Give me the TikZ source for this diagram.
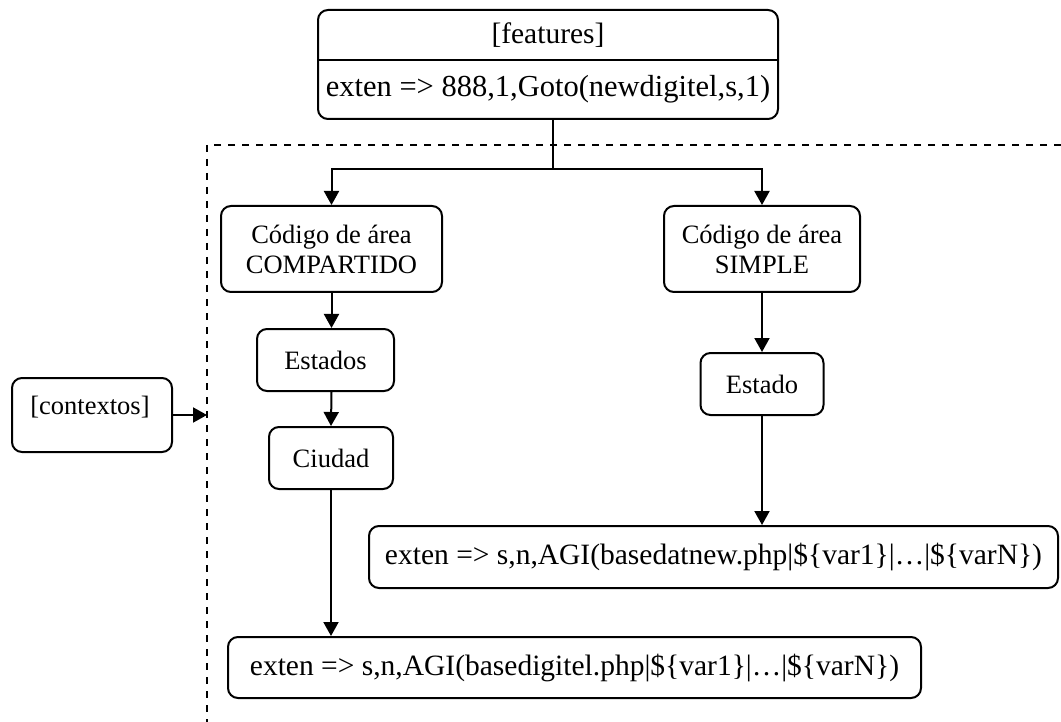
\documentclass[tikz,border=0pt]{standalone}
\usepackage{fontspec}
\setmainfont{Liberation Serif}
\usetikzlibrary{arrows.meta,calc}
\begin{document}
\begin{tikzpicture}[x=1pt,y=-1pt,
  every node/.style={font=\fontsize{29.5}{30}\selectfont},
  box/.style={draw, line width=2pt, rounded corners=10pt, inner sep=0pt, align=center},
  lbl/.style={font=\fontsize{26.5}{30}\selectfont},
  txt/.style={inner sep=0pt, align=center},
  link/.style={line width=2pt},
  conn/.style={line width=2pt, -{Triangle[length=14pt,width=15pt]}},
  frame/.style={line width=2pt, dash pattern=on 7pt off 7pt}]
\useasboundingbox (0,0) rectangle (1061,722);

% dashed context frame
\coordinate (frtr) at (1061,145);
\coordinate (frtl) at (207,145);
\coordinate (frbl) at (207,722);
\draw[frame] (frtr) -- (frtl) -- (frbl);

% feature code block
\node[box, minimum width=460pt, minimum height=109pt] (feat) at (548,64.5) {};
\draw[link] (feat.west |- 0,60) -- (feat.east |- 0,60);
\node[txt] (feattitle) at (548,35) {[features]};
\node[txt, font=\fontsize{30.5}{30}\selectfont] (featcode) at (548,89.5) {exten => 888,1,Goto(newdigitel,s,1)};

% context entry
\node[box, minimum width=160pt, minimum height=74pt] (ctx) at (92,415) {};
\node[txt, lbl] (ctxlabel) at (90,407) {[contextos]};
\coordinate (ctxin) at (207,415);
\draw[conn] (ctx.east) -- (ctxin);

% area code branches
\node[box, lbl, minimum width=221pt, minimum height=86pt] (comp) at (331.5,249) {Código de área\\COMPARTIDO};
\node[box, lbl, minimum width=196pt, minimum height=86pt] (simp) at (762,249) {Código de área\\SIMPLE};

\node[box, lbl, minimum width=137pt, minimum height=62pt] (ests) at (325.5,360) {Estados};
\node[box, lbl, minimum width=124pt, minimum height=62pt] (ciu) at (331,458) {Ciudad};
\node[box, lbl, minimum width=123pt, minimum height=62pt] (est) at (762,384) {Estado};

\node[box, minimum width=689pt, minimum height=62pt] (agi2) at (713.5,557) {exten => s,n,AGI(basedatnew.php|\$\{var1\}|…|\$\{varN\})};
\node[box, minimum width=693pt, minimum height=61pt] (agi1) at (574.5,667.5) {exten => s,n,AGI(basedigitel.php|\$\{var1\}|…|\$\{varN\})};

% connectors
\coordinate (split) at (553,169);
\draw[link] (split |- feat.south) -- (split);
\draw[conn] (split) -| (comp.north);
\draw[conn] (split) -| (simp.north);
\draw[conn] (comp.south) -- (comp.south |- ests.north);
\draw[conn] (comp.south |- ests.south) -- (ciu.north);
\draw[conn] (ciu.south) -- (ciu.south |- agi1.north);
\draw[conn] (simp.south) -- (est.north);
\draw[conn] (est.south) -- (est.south |- agi2.north);
\end{tikzpicture}
\end{document}
